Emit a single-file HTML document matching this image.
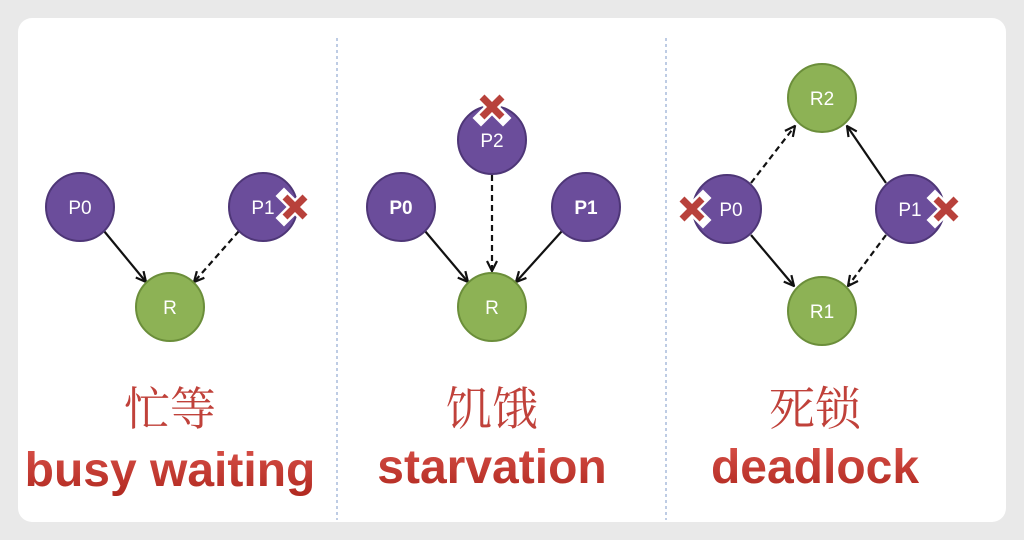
<!DOCTYPE html>
<html><head><meta charset="utf-8"><style>
html,body{margin:0;padding:0;background:#e9e9e9;width:1024px;height:540px;overflow:hidden}
svg{display:block}
</style></head><body>
<svg width="1024" height="540" viewBox="0 0 1024 540" xmlns="http://www.w3.org/2000/svg">
<defs>
<marker id="a" viewBox="0 0 12 12" refX="11" refY="6" markerWidth="12" markerHeight="12" orient="auto" markerUnits="userSpaceOnUse">
<path d="M1,1 L11,6 L1,11" fill="none" stroke="#111" stroke-width="2.2"/></marker>
<linearGradient id="tg" x1="0" y1="0" x2="0" y2="1"><stop offset="0" stop-color="#d9524a"/><stop offset="1" stop-color="#b0281f"/></linearGradient>
<g id="x"><path d="M-11,-11 L11,11 M11,-11 L-11,11" stroke="#fff" stroke-width="12" stroke-linecap="square"/><path d="M-10,-10 L10,10 M10,-10 L-10,10" stroke="#b8413b" stroke-width="7"/></g>
</defs>
<rect x="18" y="18" width="988" height="504" rx="14" fill="#fff"/>
<line x1="337" y1="38" x2="337" y2="520" stroke="#7d9ac8" stroke-width="1" stroke-dasharray="3,3"/>
<line x1="666" y1="38" x2="666" y2="520" stroke="#7d9ac8" stroke-width="1" stroke-dasharray="3,3"/>
<g font-family="Liberation Sans, sans-serif" font-size="19" fill="#fff" text-anchor="middle">
<g stroke="#111" stroke-width="2.2" marker-end="url(#a)">
<line x1="104" y1="231" x2="146" y2="282"/>
<line x1="239" y1="231" x2="194" y2="282" stroke-dasharray="6,4"/>
<line x1="492" y1="175" x2="492" y2="271" stroke-dasharray="6,4"/>
<line x1="425" y1="231" x2="468" y2="282"/>
<line x1="562" y1="231" x2="516" y2="282"/>
<line x1="751" y1="183" x2="795" y2="126" stroke-dasharray="6,4"/>
<line x1="886" y1="183" x2="847" y2="126"/>
<line x1="751" y1="235" x2="794" y2="286"/>
<line x1="886" y1="235" x2="848" y2="286" stroke-dasharray="6,4"/>
</g>
<circle cx="80" cy="207" r="34" fill="#6b4d9b" stroke="#4e3677" stroke-width="2"/><text x="80" y="214">P0</text>
<circle cx="263" cy="207" r="34" fill="#6b4d9b" stroke="#4e3677" stroke-width="2"/><text x="263" y="214">P1</text>
<circle cx="170" cy="307" r="34" fill="#8db255" stroke="#6b8e3a" stroke-width="2"/><text x="170" y="314">R</text>
<use href="#x" x="295" y="207"/>
<circle cx="492" cy="140" r="34" fill="#6b4d9b" stroke="#4e3677" stroke-width="2"/><text x="492" y="147">P2</text>
<circle cx="401" cy="207" r="34" fill="#6b4d9b" stroke="#4e3677" stroke-width="2"/><text x="401" y="214" font-weight="bold">P0</text>
<circle cx="586" cy="207" r="34" fill="#6b4d9b" stroke="#4e3677" stroke-width="2"/><text x="586" y="214" font-weight="bold">P1</text>
<circle cx="492" cy="307" r="34" fill="#8db255" stroke="#6b8e3a" stroke-width="2"/><text x="492" y="314">R</text>
<use href="#x" x="492" y="107"/>
<circle cx="822" cy="98" r="34" fill="#8db255" stroke="#6b8e3a" stroke-width="2"/><text x="822" y="105">R2</text>
<circle cx="727" cy="209" r="34" fill="#6b4d9b" stroke="#4e3677" stroke-width="2"/><text x="731" y="216">P0</text>
<circle cx="910" cy="209" r="34" fill="#6b4d9b" stroke="#4e3677" stroke-width="2"/><text x="910" y="216">P1</text>
<circle cx="822" cy="311" r="34" fill="#8db255" stroke="#6b8e3a" stroke-width="2"/><text x="822" y="318">R1</text>
<use href="#x" x="692" y="209"/>
<use href="#x" x="946" y="209"/>
</g>
<g font-family="Liberation Serif, Noto Serif CJK SC, serif" font-size="46" fill="#c0413a" text-anchor="middle">
<text x="170" y="425">忙等</text><text x="492" y="425">饥饿</text><text x="815" y="425">死锁</text>
</g>
<g font-family="Liberation Sans, sans-serif" font-size="48" font-weight="bold" fill="url(#tg)" text-anchor="middle">
<text x="170" y="486">busy waiting</text><text x="492" y="483">starvation</text><text x="815" y="483">deadlock</text>
</g>
</svg>
</body></html>
